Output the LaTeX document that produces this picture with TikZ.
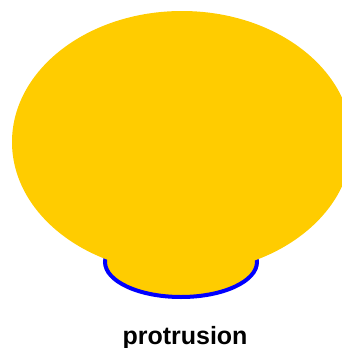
\documentclass[tikz,border=0pt]{standalone}
\usepackage{fontspec}
\setmainfont{Liberation Sans}
\usepackage{xcolor}
\definecolor{pyellow}{HTML}{FFCC00}
\definecolor{pblue}{HTML}{0000FF}
\tikzset{
  capbody/.style={fill=pyellow, draw=none},
  knob/.style={fill=pyellow, draw=pblue, line width=4pt},
  lbl/.style={font=\fontsize{25}{30}\selectfont\bfseries, inner sep=0pt},
}

\begin{document}
\begin{tikzpicture}[x=1pt, y=-1pt]
  \clip (0,0) rectangle (342,348);

  %% Protrusion underneath, outlined in blue
  \draw[knob] (181,262) ellipse [x radius=76, y radius=35];

  %% Main body on top
  \fill[capbody] (182,142) ellipse [x radius=170, y radius=131];

  %% Label
  \node[lbl, anchor=base] (plabel) at (185,344) {protrusion};
\end{tikzpicture}
\end{document}
